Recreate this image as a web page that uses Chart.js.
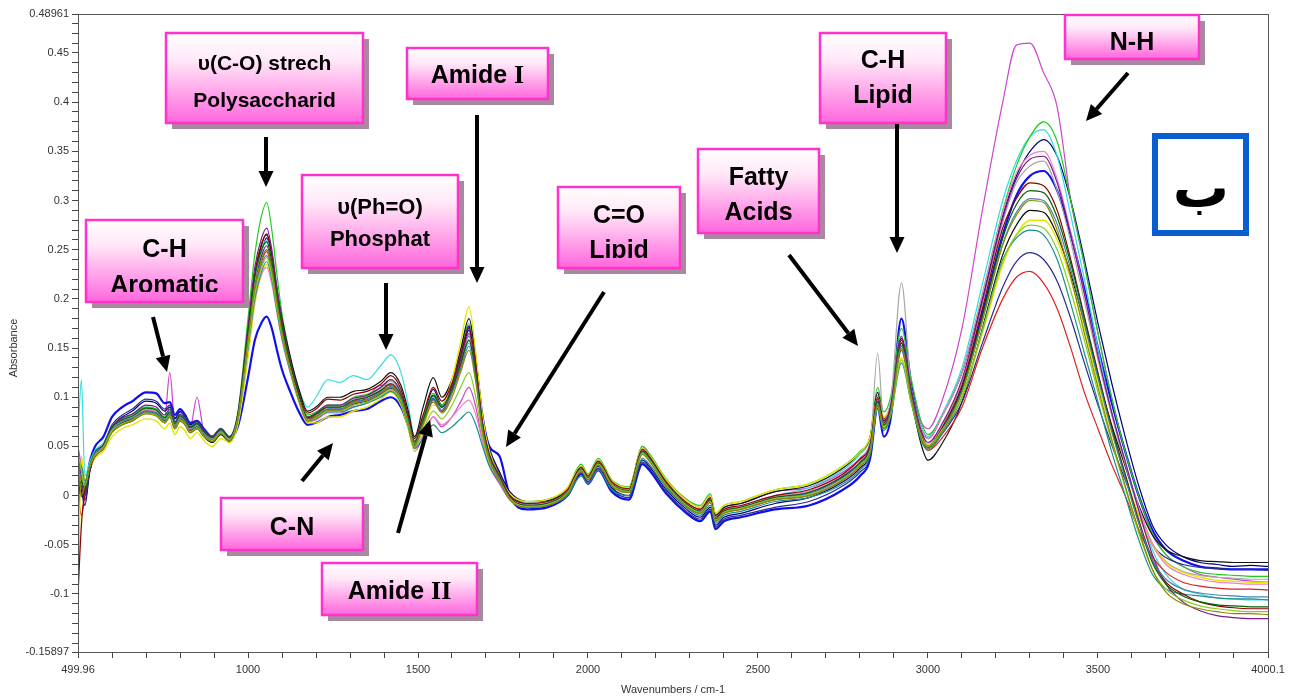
<!DOCTYPE html>
<html><head><meta charset="utf-8">
<script src="https://cdn.jsdelivr.net/npm/chart.js@4.4.1/dist/chart.umd.min.js"></script>
<style>html,body{margin:0;padding:0;background:#fff;}#wrap{width:1290px;height:700px;}</style>
</head><body><div id="wrap"><canvas id="c" width="1290" height="700"></canvas></div>
<script>
const wavenumbers = [
 499.96, 510, 520, 535, 550, 575, 600, 630, 660, 700, 730, 755, 770, 785, 800, 815, 830, 850, 870, 895, 920, 945, 970,
 1000, 1020, 1040, 1055, 1070, 1085, 1100, 1125, 1150, 1175,
 1200, 1235, 1270, 1310, 1350, 1390, 1420, 1450, 1470, 1490,
 1515, 1545, 1570, 1600, 1625, 1650, 1670, 1690, 1710, 1740,
 1770, 1820, 1880, 1940, 1980, 2000, 2030, 2070, 2120, 2160, 2180, 2230, 2290, 2330, 2360, 2375, 2400, 2450, 2550, 2650, 2750, 2800, 2830,
 2852, 2870, 2890, 2922, 2950, 2980, 3000, 3040,
 3100, 3160, 3220, 3260, 3300, 3340, 3380, 3420, 3460, 3500, 3540, 3580, 3620, 3660,
 3700, 3750, 3800, 3850, 3900, 3950, 4000.1];

const sMagenta = [
 0.05, 0.03, 0.01, 0.028, 0.04, 0.05, 0.066, 0.075, 0.08, 0.086, 0.085, 0.08, 0.125, 0.075, 0.082, 0.076, 0.07, 0.1, 0.066, 0.06, 0.068, 0.06, 0.08,
 0.15, 0.205, 0.24, 0.25, 0.232, 0.2, 0.172, 0.135, 0.1, 0.075,
 0.078, 0.085, 0.086, 0.092, 0.1, 0.112, 0.112, 0.098, 0.075, 0.045,
 0.06, 0.08, 0.07, 0.08, 0.095, 0.11, 0.09, 0.055, 0.03, 0.012,
 -0.004, -0.012, -0.01, 0.002, 0.028, 0.02, 0.036, 0.014, 0.008, 0.05, 0.042, 0.016, -0.004, -0.012, 0.0, -0.02, -0.012, -0.008, 0.004, 0.008, 0.024, 0.038, 0.054,
 0.1, 0.078, 0.094, 0.16, 0.115, 0.075, 0.068, 0.095,
 0.17, 0.29, 0.4, 0.458, 0.46, 0.43, 0.395, 0.3, 0.235, 0.165, 0.1, 0.045, -0.002, -0.04,
 -0.06, -0.072, -0.08, -0.083, -0.085, -0.087, -0.088];

const sGreen = [
 0.04, 0.025, 0.012, 0.032, 0.045, 0.052, 0.07, 0.078, 0.083, 0.09, 0.088, 0.08, 0.086, 0.074, 0.082, 0.078, 0.07, 0.074, 0.066, 0.06, 0.068, 0.06, 0.085,
 0.18, 0.245, 0.285, 0.298, 0.27, 0.225, 0.185, 0.14, 0.105, 0.082,
 0.085, 0.092, 0.092, 0.1, 0.103, 0.11, 0.118, 0.105, 0.082, 0.056,
 0.078, 0.104, 0.092, 0.115, 0.145, 0.175, 0.135, 0.075, 0.042, 0.02,
 0.0, -0.006, -0.004, 0.008, 0.032, 0.022, 0.038, 0.016, 0.009, 0.05, 0.043, 0.017, -0.004, -0.01, 0.002, -0.018, -0.01, -0.006, 0.006, 0.012, 0.03, 0.045, 0.06,
 0.11, 0.085, 0.1, 0.17, 0.12, 0.075, 0.062, 0.08,
 0.125, 0.205, 0.29, 0.335, 0.365, 0.38, 0.36, 0.3, 0.235, 0.165, 0.1, 0.045, 0.0, -0.038,
 -0.06, -0.072, -0.078, -0.08, -0.081, -0.082, -0.082];

const sCyan = [
 0.06, 0.118, 0.02, 0.035, 0.046, 0.054, 0.07, 0.078, 0.082, 0.09, 0.088, 0.08, 0.088, 0.075, 0.082, 0.078, 0.07, 0.074, 0.066, 0.06, 0.068, 0.06, 0.082,
 0.165, 0.22, 0.25, 0.26, 0.24, 0.205, 0.175, 0.138, 0.108, 0.09,
 0.1, 0.118, 0.115, 0.122, 0.118, 0.132, 0.143, 0.125, 0.095, 0.06,
 0.08, 0.1, 0.09, 0.105, 0.13, 0.155, 0.12, 0.068, 0.04, 0.018,
 -0.002, -0.01, -0.008, 0.004, 0.028, 0.018, 0.034, 0.012, 0.004, 0.046, 0.038, 0.012, -0.01, -0.018, -0.006, -0.026, -0.016, -0.012, 0.0, 0.008, 0.026, 0.042, 0.058,
 0.102, 0.08, 0.092, 0.155, 0.11, 0.07, 0.06, 0.082,
 0.13, 0.215, 0.3, 0.34, 0.365, 0.372, 0.345, 0.285, 0.22, 0.15, 0.085, 0.03, -0.015, -0.055,
 -0.08, -0.095, -0.1, -0.104, -0.105, -0.106, -0.106];

const sNavy = [
 0.02, 0.005, -0.01, 0.025, 0.04, 0.05, 0.07, 0.08, 0.086, 0.096, 0.094, 0.086, 0.09, 0.078, 0.085, 0.08, 0.072, 0.075, 0.066, 0.058, 0.066, 0.058, 0.078,
 0.158, 0.215, 0.248, 0.262, 0.24, 0.205, 0.172, 0.13, 0.098, 0.076,
 0.08, 0.088, 0.088, 0.095, 0.098, 0.104, 0.11, 0.098, 0.076, 0.052,
 0.078, 0.108, 0.092, 0.112, 0.14, 0.168, 0.13, 0.078, 0.048, 0.024,
 0.004, -0.006, -0.005, 0.006, 0.026, 0.016, 0.03, 0.008, 0.0, 0.036, 0.03, 0.006, -0.014, -0.022, -0.012, -0.03, -0.022, -0.018, -0.008, -0.002, 0.014, 0.028, 0.044,
 0.095, 0.072, 0.086, 0.16, 0.11, 0.07, 0.058, 0.08,
 0.125, 0.2, 0.285, 0.325, 0.35, 0.362, 0.345, 0.3, 0.24, 0.175, 0.115, 0.06, 0.01, -0.03,
 -0.05, -0.062, -0.068, -0.07, -0.072, -0.071, -0.072];

const sRed = [
 0.0, -0.02, 0.0, 0.028, 0.04, 0.048, 0.066, 0.074, 0.078, 0.085, 0.083, 0.076, 0.082, 0.07, 0.078, 0.074, 0.066, 0.07, 0.062, 0.056, 0.064, 0.056, 0.078,
 0.155, 0.21, 0.238, 0.248, 0.228, 0.195, 0.165, 0.128, 0.098, 0.078,
 0.082, 0.09, 0.09, 0.096, 0.1, 0.106, 0.113, 0.1, 0.078, 0.052,
 0.074, 0.098, 0.086, 0.105, 0.132, 0.158, 0.122, 0.068, 0.038, 0.016,
 -0.004, -0.012, -0.01, 0.002, 0.025, 0.016, 0.031, 0.01, 0.003, 0.043, 0.036, 0.01, -0.011, -0.018, -0.007, -0.026, -0.018, -0.014, -0.004, 0.0, 0.016, 0.03, 0.046,
 0.095, 0.07, 0.085, 0.152, 0.1, 0.058, 0.046, 0.058,
 0.09, 0.15, 0.2, 0.222, 0.228, 0.216, 0.19, 0.15, 0.105, 0.068, 0.032, 0.0, -0.035, -0.062,
 -0.078, -0.088, -0.092, -0.094, -0.095, -0.095, -0.096];

const sBlue = [
 0.01, 0.0, 0.005, 0.035, 0.05, 0.06, 0.08, 0.09, 0.096, 0.105, 0.104, 0.094, 0.095, 0.082, 0.088, 0.082, 0.074, 0.076, 0.068, 0.06, 0.068, 0.058, 0.07,
 0.12, 0.158, 0.176, 0.182, 0.17, 0.148, 0.128, 0.105, 0.085, 0.072,
 0.074, 0.08, 0.082, 0.086, 0.088, 0.096, 0.1, 0.09, 0.072, 0.05,
 0.072, 0.098, 0.086, 0.11, 0.142, 0.172, 0.135, 0.08, 0.05, 0.04,
 0.0, -0.014, -0.012, 0.0, 0.022, 0.012, 0.026, 0.004, -0.004, 0.032, 0.026, 0.002, -0.018, -0.026, -0.016, -0.034, -0.026, -0.022, -0.014, -0.01, 0.006, 0.02, 0.038,
 0.09, 0.06, 0.078, 0.18, 0.115, 0.065, 0.05, 0.066,
 0.108, 0.185, 0.265, 0.305, 0.325, 0.33, 0.31, 0.265, 0.21, 0.15, 0.095, 0.045, 0.0, -0.035,
 -0.055, -0.066, -0.072, -0.074, -0.075, -0.075, -0.075];

const sBlack = [
 -0.02, 0.01, 0.0, 0.026, 0.04, 0.048, 0.065, 0.072, 0.076, 0.084, 0.082, 0.074, 0.08, 0.068, 0.076, 0.072, 0.064, 0.068, 0.06, 0.054, 0.062, 0.055, 0.078,
 0.165, 0.222, 0.255, 0.266, 0.245, 0.21, 0.18, 0.14, 0.108, 0.086,
 0.09, 0.1, 0.1, 0.106, 0.108, 0.116, 0.125, 0.112, 0.088, 0.06,
 0.09, 0.12, 0.1, 0.118, 0.148, 0.18, 0.14, 0.078, 0.045, 0.022,
 0.0, -0.01, -0.008, 0.004, 0.028, 0.018, 0.034, 0.012, 0.006, 0.046, 0.04, 0.014, -0.008, -0.014, -0.002, -0.02, -0.012, -0.008, 0.004, 0.01, 0.028, 0.044, 0.06,
 0.105, 0.078, 0.09, 0.155, 0.1, 0.052, 0.036, 0.052,
 0.095, 0.17, 0.245, 0.275, 0.29, 0.288, 0.265, 0.225, 0.175, 0.12, 0.072, 0.03, -0.01, -0.04,
 -0.055, -0.062, -0.066, -0.067, -0.068, -0.068, -0.068];

const sYellow = [
 -0.12, 0.04, 0.015, 0.028, 0.038, 0.045, 0.06, 0.068, 0.072, 0.078, 0.076, 0.068, 0.074, 0.062, 0.07, 0.066, 0.058, 0.064, 0.056, 0.05, 0.058, 0.054, 0.072,
 0.14, 0.195, 0.225, 0.235, 0.218, 0.188, 0.16, 0.125, 0.095, 0.074,
 0.074, 0.08, 0.08, 0.086, 0.09, 0.098, 0.105, 0.092, 0.07, 0.045,
 0.07, 0.092, 0.09, 0.118, 0.155, 0.192, 0.145, 0.08, 0.045, 0.02,
 0.002, -0.006, -0.004, 0.008, 0.03, 0.021, 0.036, 0.015, 0.008, 0.048, 0.041, 0.016, -0.005, -0.012, 0.0, -0.018, -0.01, -0.006, 0.006, 0.012, 0.03, 0.044, 0.06,
 0.1, 0.08, 0.09, 0.14, 0.1, 0.062, 0.052, 0.066,
 0.1, 0.165, 0.235, 0.265, 0.28, 0.28, 0.26, 0.22, 0.17, 0.115, 0.065, 0.02, -0.02, -0.05,
 -0.068, -0.078, -0.083, -0.086, -0.087, -0.088, -0.088];

const sOlive = [
 0.04, 0.0, 0.01, 0.03, 0.04, 0.048, 0.064, 0.072, 0.076, 0.083, 0.081, 0.074, 0.08, 0.068, 0.076, 0.072, 0.064, 0.068, 0.06, 0.055, 0.063, 0.056, 0.078,
 0.158, 0.212, 0.24, 0.25, 0.23, 0.196, 0.166, 0.128, 0.097, 0.076,
 0.08, 0.087, 0.087, 0.094, 0.097, 0.104, 0.11, 0.098, 0.076, 0.052,
 0.072, 0.095, 0.084, 0.1, 0.125, 0.148, 0.115, 0.064, 0.036, 0.015,
 -0.004, -0.012, -0.01, 0.002, 0.025, 0.016, 0.031, 0.01, 0.003, 0.042, 0.035, 0.01, -0.011, -0.018, -0.007, -0.026, -0.018, -0.014, -0.004, 0.0, 0.016, 0.03, 0.045,
 0.092, 0.068, 0.083, 0.15, 0.1, 0.058, 0.048, 0.064,
 0.105, 0.178, 0.255, 0.285, 0.3, 0.298, 0.27, 0.222, 0.165, 0.11, 0.058, 0.01, -0.035, -0.075,
 -0.098, -0.11, -0.115, -0.118, -0.12, -0.12, -0.121];

const sTeal = [
 0.02, 0.03, 0.015, 0.03, 0.042, 0.05, 0.066, 0.074, 0.078, 0.085, 0.083, 0.076, 0.082, 0.07, 0.078, 0.074, 0.066, 0.07, 0.062, 0.056, 0.064, 0.056, 0.076,
 0.15, 0.2, 0.228, 0.238, 0.22, 0.188, 0.16, 0.125, 0.096, 0.076,
 0.078, 0.085, 0.085, 0.09, 0.094, 0.1, 0.106, 0.094, 0.072, 0.048,
 0.058, 0.072, 0.064, 0.07, 0.078, 0.085, 0.072, 0.05, 0.03, 0.014,
 -0.004, -0.012, -0.01, 0.0, 0.02, 0.012, 0.026, 0.006, 0.0, 0.038, 0.032, 0.008, -0.012, -0.02, -0.01, -0.028, -0.02, -0.016, -0.006, -0.002, 0.012, 0.026, 0.042,
 0.088, 0.066, 0.08, 0.135, 0.095, 0.056, 0.046, 0.062,
 0.1, 0.168, 0.24, 0.262, 0.27, 0.265, 0.24, 0.195, 0.145, 0.095, 0.045, 0.0, -0.045, -0.08,
 -0.095, -0.1, -0.102, -0.104, -0.105, -0.105, -0.106];

const sPurple = [
 0.05, 0.015, 0.0, 0.03, 0.044, 0.052, 0.07, 0.079, 0.083, 0.092, 0.09, 0.082, 0.088, 0.075, 0.083, 0.078, 0.07, 0.074, 0.066, 0.06, 0.068, 0.06, 0.083,
 0.172, 0.232, 0.262, 0.272, 0.25, 0.212, 0.178, 0.136, 0.102, 0.08,
 0.084, 0.092, 0.092, 0.099, 0.102, 0.11, 0.118, 0.104, 0.08, 0.055,
 0.076, 0.102, 0.09, 0.11, 0.138, 0.165, 0.128, 0.072, 0.04, 0.018,
 -0.002, -0.01, -0.008, 0.004, 0.027, 0.018, 0.033, 0.012, 0.005, 0.045, 0.038, 0.012, -0.009, -0.016, -0.005, -0.024, -0.016, -0.012, -0.002, 0.003, 0.02, 0.034, 0.05,
 0.098, 0.074, 0.09, 0.162, 0.11, 0.066, 0.054, 0.072,
 0.118, 0.198, 0.282, 0.322, 0.342, 0.345, 0.318, 0.265, 0.205, 0.142, 0.085, 0.035, -0.015, -0.06,
 -0.09, -0.108, -0.117, -0.122, -0.124, -0.125, -0.125];

const sMaroon = [
 -0.1, -0.03, 0.005, 0.027, 0.04, 0.048, 0.066, 0.074, 0.078, 0.086, 0.084, 0.076, 0.083, 0.07, 0.078, 0.074, 0.066, 0.07, 0.062, 0.056, 0.064, 0.057, 0.082,
 0.168, 0.226, 0.256, 0.265, 0.245, 0.208, 0.176, 0.136, 0.104, 0.084,
 0.088, 0.098, 0.097, 0.103, 0.106, 0.113, 0.122, 0.108, 0.084, 0.058,
 0.082, 0.11, 0.096, 0.114, 0.142, 0.17, 0.132, 0.074, 0.042, 0.02,
 0.0, -0.008, -0.006, 0.006, 0.029, 0.02, 0.035, 0.014, 0.007, 0.047, 0.04, 0.014, -0.007, -0.014, -0.003, -0.022, -0.014, -0.01, 0.0, 0.006, 0.022, 0.037, 0.052,
 0.1, 0.076, 0.09, 0.158, 0.106, 0.062, 0.05, 0.068,
 0.112, 0.19, 0.272, 0.302, 0.318, 0.315, 0.29, 0.24, 0.182, 0.125, 0.07, 0.022, -0.025, -0.065,
 -0.088, -0.1, -0.108, -0.112, -0.114, -0.115, -0.115];

const sGray = [
 0.03, 0.02, 0.01, 0.03, 0.042, 0.05, 0.068, 0.076, 0.08, 0.088, 0.086, 0.078, 0.084, 0.072, 0.08, 0.076, 0.068, 0.072, 0.064, 0.058, 0.066, 0.058, 0.08,
 0.162, 0.218, 0.248, 0.258, 0.238, 0.202, 0.172, 0.134, 0.102, 0.08,
 0.083, 0.091, 0.091, 0.098, 0.101, 0.109, 0.116, 0.103, 0.081, 0.056,
 0.076, 0.101, 0.089, 0.109, 0.136, 0.163, 0.126, 0.071, 0.041, 0.019,
 -0.001, -0.009, -0.007, 0.005, 0.028, 0.019, 0.034, 0.013, 0.006, 0.046, 0.039, 0.013, -0.008, -0.015, -0.004, -0.023, -0.015, -0.011, -0.001, 0.004, 0.02, 0.036, 0.052,
 0.145, 0.075, 0.092, 0.216, 0.11, 0.064, 0.052, 0.07,
 0.115, 0.195, 0.278, 0.318, 0.335, 0.34, 0.31, 0.258, 0.198, 0.138, 0.082, 0.032, -0.012, -0.048,
 -0.067, -0.077, -0.081, -0.083, -0.084, -0.085, -0.085];

const sDarkBlue = [
 0.01, 0.01, -0.005, 0.028, 0.042, 0.052, 0.072, 0.082, 0.088, 0.098, 0.096, 0.088, 0.092, 0.079, 0.086, 0.081, 0.073, 0.076, 0.067, 0.06, 0.067, 0.059, 0.08,
 0.16, 0.214, 0.244, 0.254, 0.234, 0.2, 0.17, 0.132, 0.1, 0.078,
 0.08, 0.087, 0.087, 0.093, 0.096, 0.103, 0.109, 0.097, 0.075, 0.05,
 0.074, 0.102, 0.09, 0.108, 0.136, 0.162, 0.126, 0.075, 0.046, 0.022,
 0.002, -0.008, -0.007, 0.004, 0.024, 0.014, 0.028, 0.006, -0.002, 0.034, 0.028, 0.004, -0.016, -0.024, -0.014, -0.032, -0.024, -0.02, -0.012, -0.006, 0.01, 0.024, 0.04,
 0.092, 0.068, 0.082, 0.148, 0.098, 0.058, 0.048, 0.062,
 0.095, 0.155, 0.212, 0.238, 0.247, 0.24, 0.218, 0.18, 0.135, 0.092, 0.052, 0.016, -0.02, -0.05,
 -0.063, -0.07, -0.073, -0.074, -0.075, -0.075, -0.076];

const sLime = [
 0.045, 0.025, 0.01, 0.03, 0.041, 0.049, 0.066, 0.073, 0.077, 0.084, 0.082, 0.075, 0.081, 0.069, 0.077, 0.073, 0.065, 0.069, 0.061, 0.056, 0.064, 0.057, 0.078,
 0.152, 0.204, 0.232, 0.242, 0.224, 0.191, 0.163, 0.127, 0.097, 0.077,
 0.079, 0.086, 0.086, 0.092, 0.095, 0.102, 0.108, 0.096, 0.074, 0.05,
 0.066, 0.086, 0.078, 0.092, 0.11, 0.125, 0.1, 0.06, 0.034, 0.015,
 -0.003, -0.011, -0.009, 0.003, 0.026, 0.017, 0.032, 0.011, 0.004, 0.043, 0.036, 0.011, -0.01, -0.017, -0.006, -0.025, -0.017, -0.013, -0.003, 0.001, 0.017, 0.031, 0.046,
 0.09, 0.07, 0.082, 0.138, 0.096, 0.06, 0.05, 0.066,
 0.1, 0.168, 0.238, 0.265, 0.275, 0.272, 0.25, 0.208, 0.158, 0.105, 0.055, 0.008, -0.038, -0.075,
 -0.095, -0.106, -0.112, -0.115, -0.117, -0.118, -0.118];

const sPink = [
 0.035, 0.02, 0.008, 0.029, 0.041, 0.049, 0.067, 0.075, 0.079, 0.087, 0.085, 0.077, 0.083, 0.071, 0.079, 0.075, 0.067, 0.071, 0.063, 0.057, 0.065, 0.057, 0.077,
 0.148, 0.198, 0.225, 0.232, 0.215, 0.186, 0.158, 0.124, 0.095, 0.075,
 0.077, 0.084, 0.084, 0.09, 0.094, 0.101, 0.107, 0.095, 0.073, 0.048,
 0.062, 0.08, 0.072, 0.08, 0.09, 0.097, 0.082, 0.054, 0.032, 0.014,
 -0.003, -0.011, -0.009, 0.003, 0.027, 0.018, 0.033, 0.012, 0.005, 0.046, 0.039, 0.013, -0.008, -0.015, -0.004, -0.023, -0.015, -0.011, 0.0, 0.005, 0.022, 0.037, 0.053,
 0.1, 0.077, 0.092, 0.158, 0.11, 0.068, 0.058, 0.08,
 0.125, 0.205, 0.288, 0.328, 0.346, 0.35, 0.322, 0.268, 0.206, 0.143, 0.085, 0.035, -0.012, -0.05,
 -0.07, -0.08, -0.085, -0.088, -0.089, -0.09, -0.09];

const sDarkGreen = [
 0.0, 0.015, 0.005, 0.029, 0.043, 0.051, 0.069, 0.077, 0.081, 0.089, 0.087, 0.079, 0.085, 0.073, 0.081, 0.077, 0.069, 0.073, 0.065, 0.059, 0.067, 0.059, 0.081,
 0.165, 0.222, 0.25, 0.258, 0.238, 0.203, 0.172, 0.133, 0.101, 0.079,
 0.083, 0.09, 0.09, 0.097, 0.1, 0.107, 0.114, 0.101, 0.079, 0.054,
 0.077, 0.102, 0.09, 0.108, 0.134, 0.158, 0.123, 0.07, 0.04, 0.018,
 -0.002, -0.01, -0.008, 0.004, 0.027, 0.018, 0.033, 0.012, 0.005, 0.045, 0.038, 0.012, -0.009, -0.016, -0.005, -0.024, -0.016, -0.012, -0.002, 0.003, 0.019, 0.033, 0.049,
 0.096, 0.072, 0.087, 0.155, 0.103, 0.06, 0.049, 0.066,
 0.108, 0.182, 0.262, 0.296, 0.31, 0.308, 0.283, 0.236, 0.18, 0.123, 0.068, 0.02, -0.028, -0.068,
 -0.09, -0.102, -0.108, -0.111, -0.112, -0.113, -0.113];

const sSteel = [
 0.025, 0.02, 0.012, 0.031, 0.043, 0.05, 0.067, 0.075, 0.079, 0.086, 0.084, 0.077, 0.083, 0.071, 0.079, 0.075, 0.067, 0.071, 0.063, 0.057, 0.065, 0.058, 0.079,
 0.155, 0.207, 0.235, 0.244, 0.226, 0.193, 0.164, 0.128, 0.098, 0.077,
 0.08, 0.088, 0.088, 0.095, 0.098, 0.105, 0.111, 0.099, 0.077, 0.052,
 0.073, 0.097, 0.086, 0.104, 0.128, 0.152, 0.118, 0.067, 0.038, 0.017,
 -0.003, -0.011, -0.009, 0.003, 0.026, 0.017, 0.032, 0.011, 0.004, 0.044, 0.037, 0.011, -0.01, -0.017, -0.006, -0.025, -0.017, -0.013, -0.003, 0.002, 0.018, 0.032, 0.047,
 0.094, 0.07, 0.085, 0.152, 0.102, 0.06, 0.05, 0.066,
 0.106, 0.178, 0.256, 0.288, 0.302, 0.3, 0.276, 0.23, 0.175, 0.12, 0.066, 0.018, -0.028, -0.065,
 -0.085, -0.095, -0.099, -0.101, -0.102, -0.103, -0.103];

const xTickLabels = [499.96, 1000, 1500, 2000, 2500, 3000, 3500, 4000.1];
const yTickLabels = [-0.15897, -0.1, -0.05, 0, 0.05, 0.1, 0.15, 0.2, 0.25, 0.3, 0.35, 0.4, 0.45, 0.48961];

const seriesList = [
 {values: sOlive, color: '#8a8a00', width: 1.2},
 {values: sLime, color: '#8ccc22', width: 1.2},
 {values: sSteel, color: '#4682b4', width: 1.2},
 {values: sDarkGreen, color: '#006400', width: 1.2},
 {values: sPurple, color: '#7a1a8a', width: 1.2},
 {values: sMaroon, color: '#8b0000', width: 1.2},
 {values: sTeal, color: '#1a8f8f', width: 1.2},
 {values: sPink, color: '#f080c8', width: 1.2},
 {values: sYellow, color: '#e6e600', width: 1.4},
 {values: sGray, color: '#a9a9a9', width: 1.2},
 {values: sRed, color: '#dd2020', width: 1.2},
 {values: sDarkBlue, color: '#2a2a90', width: 1.2},
 {values: sBlack, color: '#111111', width: 1.2},
 {values: sGreen, color: '#22cc22', width: 1.2},
 {values: sCyan, color: '#33dddd', width: 1.2},
 {values: sNavy, color: '#000080', width: 1.2},
 {values: sBlue, color: '#1010ee', width: 2.2},
 {values: sMagenta, color: '#cc44cc', width: 1.2}
];

const callouts = [
 {box:[166,33,363,123], lines:[{t:'υ(C-O) strech', y:62, size:21}, {t:'Polysaccharid', y:99, size:21}]},
 {box:[407,48,548,99], lines:[{t:'Amide ', roman:'I', y:74, size:25}]},
 {box:[302,175,458,268], lines:[{t:'υ(Ph=O)', y:206, size:22}, {t:'Phosphat', y:238, size:22}]},
 {box:[86,220,243,302], clip:292, lines:[{t:'C-H', y:248, size:25}, {t:'Aromatic', y:284, size:25}]},
 {box:[221,498,363,550], lines:[{t:'C-N', y:526, size:25}]},
 {box:[322,563,477,615], lines:[{t:'Amide ', roman:'II', y:590, size:25}]},
 {box:[558,187,680,268], clip:258, lines:[{t:'C=O', y:214, size:25}, {t:'Lipid', y:249, size:25}]},
 {box:[698,149,819,233], lines:[{t:'Fatty', y:176, size:25}, {t:'Acids', y:211, size:25}]},
 {box:[820,33,946,123], lines:[{t:'C-H', y:59, size:25}, {t:'Lipid', y:94, size:25}]},
 {box:[1065,15,1199,59], lines:[{t:'N-H', y:41, size:25}]}
];
const arrows = [
 [266,137,266,187],[477,115,477,283],[386,283,386,350],[153,317,167,372],[302,481,333,443],
 [398,533,430,420],[604,292,506,447],[789,255,858,346],[897,124,897,253],[1128,73,1086,121]
];

const SANS = '"Liberation Sans", Arial, sans-serif';
const SERIF = '"Liberation Serif", "Times New Roman", serif';

function drawArrow(ctx, x1, y1, x2, y2) {
  const ang = Math.atan2(y2 - y1, x2 - x1);
  const hl = 16, hw = 7.5;
  const bx = x2 - hl * Math.cos(ang), by = y2 - hl * Math.sin(ang);
  ctx.strokeStyle = '#000'; ctx.lineWidth = 4; ctx.lineCap = 'butt';
  ctx.beginPath(); ctx.moveTo(x1, y1); ctx.lineTo(bx, by); ctx.stroke();
  ctx.fillStyle = '#000';
  ctx.beginPath();
  ctx.moveTo(x2, y2);
  ctx.lineTo(bx + hw * Math.sin(ang), by - hw * Math.cos(ang));
  ctx.lineTo(bx - hw * Math.sin(ang), by + hw * Math.cos(ang));
  ctx.closePath(); ctx.fill();
}

const overlayPlugin = {
  id: 'overlay',
  afterDatasetsDraw(chart) {
    const ctx = chart.ctx, a = chart.chartArea;
    ctx.save();
    ctx.strokeStyle = '#555'; ctx.lineWidth = 1;
    ctx.strokeRect(Math.round(a.left) + 0.5, Math.round(a.top) + 0.5, Math.round(a.right - a.left), Math.round(a.bottom - a.top));
    callouts.forEach(c => {
      const [x1, y1, x2, y2] = c.box, w = x2 - x1, h = y2 - y1;
      ctx.fillStyle = '#a88aa0';
      ctx.fillRect(x1 + 6, y1 + 6, w, h);
      const g = ctx.createLinearGradient(0, y1, 0, y2);
      g.addColorStop(0, '#ffffff'); g.addColorStop(0.3, '#ffe8f8'); g.addColorStop(1, '#ff66dd');
      ctx.fillStyle = g; ctx.fillRect(x1, y1, w, h);
      ctx.strokeStyle = '#ff33cc'; ctx.lineWidth = 2.5; ctx.strokeRect(x1, y1, w, h);
      ctx.save();
      ctx.beginPath(); ctx.rect(x1 + 2, y1 + 2, w - 4, (c.clip ? c.clip : y2 - 2) - y1 - 2); ctx.clip();
      ctx.fillStyle = '#000'; ctx.textBaseline = 'alphabetic';
      const cx = (x1 + x2) / 2;
      c.lines.forEach(l => {
        const base = l.y + 0.36 * l.size;
        ctx.font = 'bold ' + l.size + 'px ' + SANS;
        if (l.roman) {
          const w1 = ctx.measureText(l.t).width;
          ctx.font = 'bold ' + (l.size + 1) + 'px ' + SERIF;
          const w2 = ctx.measureText(l.roman).width;
          const sx = cx - (w1 + w2) / 2;
          ctx.textAlign = 'left';
          ctx.font = 'bold ' + l.size + 'px ' + SANS;
          ctx.fillText(l.t, sx, base);
          ctx.font = 'bold ' + (l.size + 1) + 'px ' + SERIF;
          ctx.fillText(l.roman, sx + w1, base);
        } else {
          ctx.textAlign = 'center';
          ctx.fillText(l.t, cx, base);
        }
      });
      ctx.restore();
    });
    arrows.forEach(ar => drawArrow(ctx, ar[0], ar[1], ar[2], ar[3]));
    ctx.strokeStyle = '#0a5fd0'; ctx.lineWidth = 6;
    ctx.strokeRect(1155, 136, 91, 97);
    ctx.fillStyle = '#000'; ctx.textAlign = 'center'; ctx.textBaseline = 'alphabetic';
    ctx.font = 'bold 56px "DejaVu Sans", "Noto Sans", sans-serif';
    ctx.fillText('ب', 1201, 207);
    ctx.fillStyle = '#333'; ctx.font = '11px ' + SANS; ctx.textBaseline = 'middle';
    ctx.fillText('Wavenumbers / cm-1', (a.left + a.right) / 2, 690);
    ctx.save(); ctx.translate(14, 348); ctx.rotate(-Math.PI / 2);
    ctx.fillText('Absorbance', 0, 0); ctx.restore();
    ctx.restore();
  }
};

const ctx = document.getElementById('c').getContext('2d');
new Chart(ctx, {
  type: 'line',
  data: {
    datasets: seriesList.map((s, k) => ({
      label: 'Sample ' + (k + 1),
      data: wavenumbers.map((w, i) => ({x: w, y: s.values[i]})),
      borderColor: s.color, borderWidth: s.width, pointRadius: 0, fill: false,
      cubicInterpolationMode: 'monotone'
    }))
  },
  options: {
    responsive: false, animation: false, devicePixelRatio: 1,
    layout: {padding: {left: 0, right: 22, top: 14, bottom: 0}},
    plugins: {legend: {display: false}, tooltip: {enabled: false}, title: {display: false}},
    scales: {
      x: {
        type: 'linear', min: 499.96, max: 4000.1,
        afterBuildTicks(scale) {
          const t = xTickLabels.map(v => ({value: v}));
          for (let v = 600; v < 4000; v += 100) { if (!xTickLabels.includes(v)) t.push({value: v}); }
          t.sort((p, q) => p.value - q.value);
          scale.ticks = t;
        },
        afterFit(scale) { scale.height = 48; },
        ticks: {autoSkip: false, maxRotation: 0, padding: 5, color: '#333',
          font: {family: SANS, size: 11},
          callback: (v) => xTickLabels.includes(v) ? String(v) : ''},
        grid: {drawOnChartArea: false, drawTicks: true, tickLength: 6, color: '#444'},
        border: {color: '#444', width: 1}
      },
      y: {
        type: 'linear', min: -0.15897, max: 0.48961,
        afterBuildTicks(scale) {
          const t = yTickLabels.map(v => ({value: v}));
          for (let i = -15; i <= 48; i++) { const v = i / 100; if (!yTickLabels.includes(v)) t.push({value: v}); }
          t.sort((p, q) => p.value - q.value);
          scale.ticks = t;
        },
        afterFit(scale) { scale.width = 78; },
        ticks: {autoSkip: false, padding: 3, color: '#333',
          font: {family: SANS, size: 11},
          callback: (v) => yTickLabels.includes(v) ? String(v) : ''},
        grid: {drawOnChartArea: false, drawTicks: true, tickLength: 6, color: '#444'},
        border: {color: '#444', width: 1}
      }
    }
  },
  plugins: [overlayPlugin]
});
</script>
</body></html>
